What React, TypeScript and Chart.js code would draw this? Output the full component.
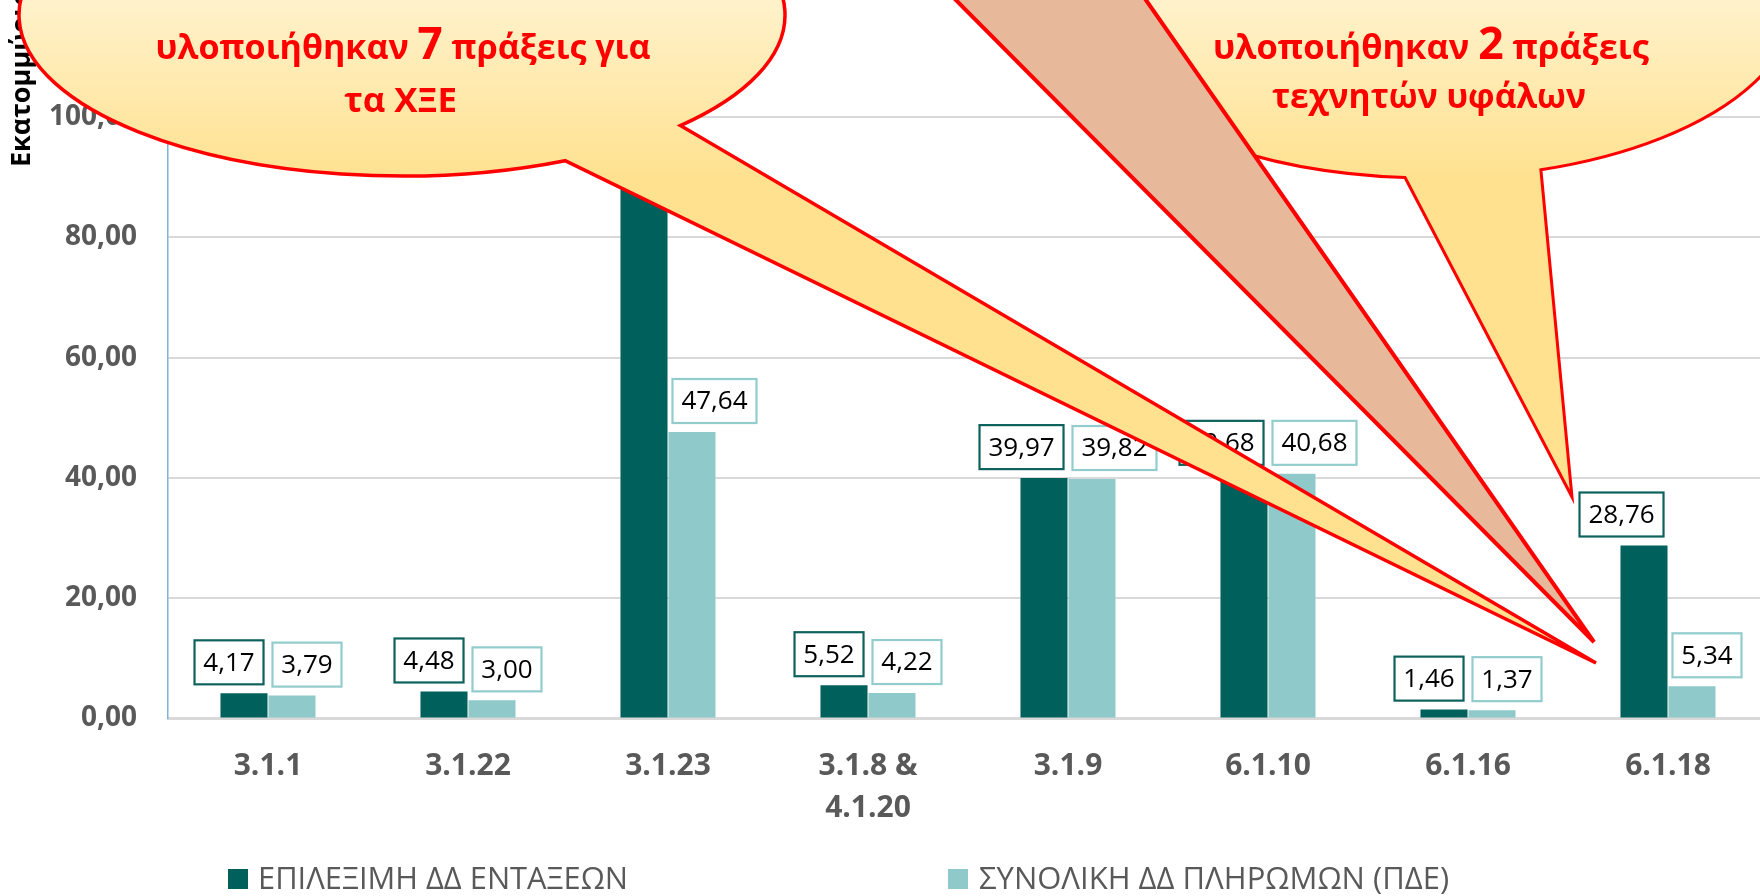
import React, { useEffect, useRef } from "react";
import { Chart, registerables } from "chart.js";

Chart.register(...registerables);

// ---------- data ----------
const categories: (string | string[])[] = [
  "3.1.1",
  "3.1.22",
  "3.1.23",
  ["3.1.8 &", "4.1.20"],
  "3.1.9",
  "6.1.10",
  "6.1.16",
  "6.1.18",
];
const eligibleValues = [4.17, 4.48, 100.5, 5.52, 39.97, 40.68, 1.46, 28.76];
const paymentValues = [3.79, 3.0, 47.64, 4.22, 39.82, 40.68, 1.37, 5.34];
const seriesLabels = ["ΕΠΙΛΕΞΙΜΗ ΔΔ ΕΝΤΑΞΕΩΝ", "ΣΥΝΟΛΙΚΗ ΔΔ ΠΛΗΡΩΜΩΝ (ΠΔΕ)"];
const yAxisTitle = "Εκατομμύρια";
const yMin = 0;
const yMax = 120;
const yStep = 20;

const calloutLeftText = [
  [{ t: "υλοποιήθηκαν " }, { t: "7", big: true }, { t: " πράξεις για" }],
  [{ t: "τα ΧΞΕ" }],
];
const calloutRightText = [
  [{ t: "υλοποιήθηκαν " }, { t: "2", big: true }, { t: " πράξεις" }],
  [{ t: "τεχνητών υφάλων" }],
];

// ---------- styles ----------
const FONT = '"Open Sans", "Noto Sans", "DejaVu Sans", sans-serif';
const seriesColors = ["#00615C", "#8FC9C9"];
const labelBorderColors = ["#0E625D", "#93CCCC"];
const OFFSET_Y = 20;
const CANVAS_W = 1768;
const CANVAS_H = 916;
const PLOT_BOTTOM = 738.4;
const PLOT_TOP = 17;

const fmt = (v: number) => v.toFixed(2).replace(".", ",");

const barLabelPlugin = {
  id: "barLabels",
  afterDatasetsDraw(chart: any) {
    const ctx = chart.ctx;
    ctx.save();
    ctx.font = `26px ${FONT}`;
    ctx.textAlign = "center";
    ctx.textBaseline = "middle";
    chart.data.datasets.forEach((ds: any, di: number) => {
      const meta = chart.getDatasetMeta(di);
      meta.data.forEach((bar: any, i: number) => {
        const v = ds.data[i];
        const text = fmt(v);
        const p = bar.getProps(["x", "y", "width"], true);
        const tw = ctx.measureText(text).width;
        const bw = Math.round(tw + 20);
        const bh = 46;
        const left = di === 0 ? p.x + p.width / 2 - 3 - bw : p.x - p.width / 2 + 3;
        const top = p.y - 8 - bh;
        ctx.fillStyle = "#FFFFFF";
        ctx.fillRect(left, top, bw, bh);
        ctx.lineWidth = 2.2;
        ctx.strokeStyle = labelBorderColors[di];
        ctx.strokeRect(left + 1, top + 1, bw - 2, bh - 2);
        ctx.fillStyle = "#000000";
        ctx.fillText(text, left + bw / 2, top + bh / 2 + 1);
      });
    });
    ctx.restore();
  },
};

function drawRichLine(
  ctx: CanvasRenderingContext2D,
  segs: { t: string; big?: boolean }[],
  cx: number,
  baseline: number,
  targetW: number
) {
  const fontFor = (big?: boolean) => `bold ${big ? 44 : 34}px ${FONT}`;
  const widths = segs.map((s) => {
    ctx.font = fontFor(s.big);
    return ctx.measureText(s.t).width;
  });
  const total = widths.reduce((a, b) => a + b, 0);
  const sx = targetW / total;
  ctx.save();
  ctx.translate(cx - targetW / 2, baseline);
  ctx.scale(sx, 1);
  ctx.textAlign = "left";
  ctx.textBaseline = "alphabetic";
  let x = 0;
  segs.forEach((s, i) => {
    ctx.font = fontFor(s.big);
    ctx.fillText(s.t, x, 0);
    x += widths[i];
  });
  ctx.restore();
}

function bubblePath(
  ctx: CanvasRenderingContext2D,
  cx: number,
  cy: number,
  rx: number,
  ry: number,
  a1: number,
  a2: number,
  tip: [number, number]
) {
  ctx.beginPath();
  ctx.ellipse(cx, cy, rx, ry, 0, a1, a2, true);
  ctx.lineTo(tip[0], tip[1]);
  ctx.closePath();
}

const overlayPlugin = {
  id: "overlay",
  afterDraw(chart: any) {
    const ctx: CanvasRenderingContext2D = chart.ctx;
    ctx.save();
    ctx.translate(0, OFFSET_Y);

    // y axis title
    ctx.save();
    ctx.translate(22.5, 167);
    ctx.rotate(-Math.PI / 2);
    ctx.font = `bold 27px ${FONT}`;
    ctx.fillStyle = "#000000";
    ctx.textAlign = "left";
    ctx.textBaseline = "middle";
    ctx.fillText(yAxisTitle, 0, 0);
    ctx.restore();

    // legend
    const legendItems = [
      { box: 228, text: 258, w: 370 },
      { box: 948, text: 979, w: 474 },
    ];
    ctx.font = `31px ${FONT}`;
    ctx.textAlign = "left";
    ctx.textBaseline = "middle";
    chart.data.datasets.forEach((ds: any, i: number) => {
      const it = legendItems[i];
      ctx.fillStyle = ds.backgroundColor;
      ctx.fillRect(it.box, 869, 20, 20);
      ctx.fillStyle = "#595959";
      ctx.fillText(ds.label, it.text, 880, it.w);
    });

    // callouts
    const grad = ctx.createLinearGradient(0, 0, 0, 180);
    grad.addColorStop(0, "#FFF2CB");
    grad.addColorStop(1, "#FFE18F");
    ctx.lineJoin = "miter";
    ctx.miterLimit = 6;

    // right bubble
    bubblePath(ctx, 1431, 0, 365, 178, 1.265, 1.642, [1572, 497]);
    ctx.fillStyle = grad;
    ctx.fill();
    ctx.strokeStyle = "#FF0000";
    ctx.lineWidth = 3;
    ctx.stroke();

    // brown wedge
    ctx.beginPath();
    ctx.moveTo(936, -20);
    ctx.lineTo(1132, -20);
    ctx.lineTo(1594, 642);
    ctx.closePath();
    ctx.fillStyle = "#E8B89B";
    ctx.fill();
    ctx.lineWidth = 4;
    ctx.strokeStyle = "#FF0000";
    ctx.stroke();

    // left bubble
    bubblePath(ctx, 402, 15, 383, 161, 0.757, 1.131, [1596, 663]);
    ctx.fillStyle = grad;
    ctx.fill();
    ctx.lineWidth = 3.5;
    ctx.strokeStyle = "#FF0000";
    ctx.stroke();

    ctx.fillStyle = "#FF0000";
    drawRichLine(ctx, calloutLeftText[0], 403, 58.5, 495);
    drawRichLine(ctx, calloutLeftText[1], 400.5, 111.5, 113);
    drawRichLine(ctx, calloutRightText[0], 1431, 59.3, 436);
    drawRichLine(ctx, calloutRightText[1], 1429, 108.3, 314);

    ctx.restore();
  },
};

export default function App() {
  const canvasRef = useRef<HTMLCanvasElement | null>(null);

  useEffect(() => {
    const canvas = canvasRef.current;
    if (!canvas) return;
    const chart = new Chart(canvas, {
      type: "bar",
      data: {
        labels: categories as any,
        datasets: [
          {
            label: seriesLabels[0],
            data: eligibleValues,
            backgroundColor: seriesColors[0],
            barPercentage: 0.98,
            categoryPercentage: 0.48,
          },
          {
            label: seriesLabels[1],
            data: paymentValues,
            backgroundColor: seriesColors[1],
            barPercentage: 0.98,
            categoryPercentage: 0.48,
          },
        ],
      },
      options: {
        responsive: false,
        animation: false,
        devicePixelRatio: 1,
        layout: { padding: { top: PLOT_TOP, left: 0, right: 0, bottom: 0 } },
        plugins: {
          legend: { display: false },
          tooltip: { enabled: false },
          title: { display: false },
        },
        scales: {
          x: {
            grid: { display: false, drawTicks: false },
            border: { display: true, color: "#D9D9D9", width: 3 },
            ticks: {
              color: "#595959",
              font: { family: FONT, size: 30, weight: "bold", lineHeight: 1.4 },
              padding: 27,
              maxRotation: 0,
              autoSkip: false,
            },
            afterFit: (s: any) => {
              s.height = CANVAS_H - PLOT_BOTTOM;
              s.paddingLeft = 0;
              s.paddingRight = 0;
            },
          },
          y: {
            min: yMin,
            max: yMax,
            ticks: {
              stepSize: yStep,
              color: "#595959",
              font: { family: FONT, size: 28, weight: "bold" },
              padding: 31,
              callback: (v: any) => fmt(Number(v)),
            },
            grid: { color: "#D9D9D9", lineWidth: 2, drawTicks: false },
            border: { display: true, color: "#7FB0E0", width: 1.5 },
            afterFit: (s: any) => {
              s.width = 168;
              s.paddingTop = 0;
              s.paddingBottom = 0;
            },
          },
        },
      },
      plugins: [barLabelPlugin, overlayPlugin],
    });
    return () => chart.destroy();
  }, []);

  return (
    <div
      style={{
        position: "fixed",
        left: 0,
        top: -OFFSET_Y,
        width: CANVAS_W,
        height: CANVAS_H,
        background: "#FFFFFF",
      }}
    >
      <canvas
        ref={canvasRef}
        width={CANVAS_W}
        height={CANVAS_H}
        style={{ width: CANVAS_W, height: CANVAS_H, display: "block" }}
      />
    </div>
  );
}
